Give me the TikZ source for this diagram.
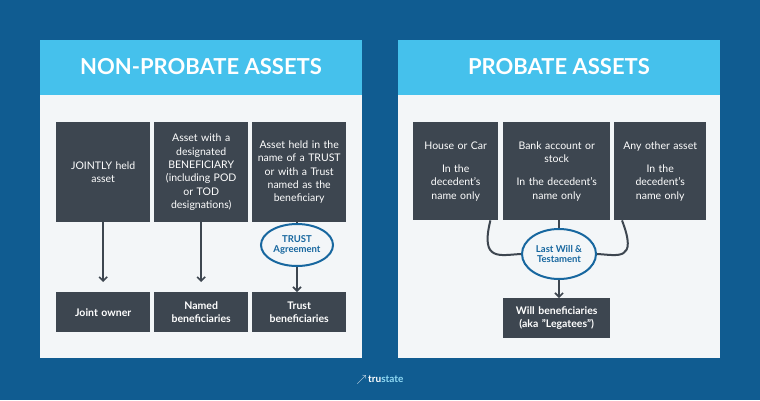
\documentclass[tikz,border=0pt]{standalone}
\usepackage{fontspec}
\setmainfont{Lato}
\usetikzlibrary{shapes.geometric,arrows.meta}
\definecolor{bgblue}{HTML}{105C91}
\definecolor{headblue}{HTML}{45C1EC}
\definecolor{panelgray}{HTML}{F3F6F8}
\definecolor{boxgray}{HTML}{3D4650}
\definecolor{ringblue}{HTML}{17679F}
\tikzset{
  assetbox/.style={rectangle, fill=boxgray, text=white, align=center,
    font=\fontsize{10.5}{13.4}\selectfont, inner sep=1pt, anchor=north west},
  resultbox/.style={assetbox, font=\bfseries\fontsize{10.5}{13.4}\selectfont},
  ring/.style={ellipse, draw=ringblue, line width=2pt, fill=panelgray, text=ringblue,
    align=center, font=\bfseries\fontsize{9.5}{10}\selectfont, inner sep=0pt},
  line/.style={draw=boxgray, line width=1.6pt, -{Straight Barb[length=4pt,width=8pt]}},
  link/.style={draw=boxgray, line width=2pt},
  header/.style={text=white, font=\bfseries\fontsize{22}{24}\selectfont}
}
\begin{document}
\begin{tikzpicture}[x=1pt,y=-1pt]
  \useasboundingbox (0,0) rectangle (760,400);
  \fill[bgblue] (0,0) rectangle (760,400);

  % Panels
  \fill[panelgray] (40,40) rectangle (362,358);
  \fill[headblue] (40,40) rectangle (362,95);
  \fill[panelgray] (398,40) rectangle (720,358);
  \fill[headblue] (398,40) rectangle (720,95);
  \node[header] (nphead) at (201,67) {NON-PROBATE ASSETS};
  \node[header] (phead) at (559,67) {PROBATE ASSETS};

  % Non-probate boxes
  \node[assetbox, minimum width=94pt, minimum height=100pt, text width=92pt] (joint) at (56,122) {JOINTLY held\\asset};
  \node[assetbox, minimum width=94pt, minimum height=100pt, text width=92pt] (named) at (154,122) {Asset with a\\designated\\BENEFICIARY\\(including POD\\or TOD\\designations)};
  \node[assetbox, minimum width=94pt, minimum height=100pt, text width=92pt] (trust) at (252,122) {Asset held in the\\name of a TRUST\\or with a Trust\\named as the\\beneficiary};
  \node[resultbox, minimum width=94pt, minimum height=40pt, text width=92pt] (jointown) at (56,292) {Joint owner};
  \node[resultbox, minimum width=94pt, minimum height=40pt, text width=92pt] (namedben) at (154,292) {Named\\beneficiaries};
  \node[resultbox, minimum width=94pt, minimum height=40pt, text width=92pt] (trustben) at (252,292) {Trust\\beneficiaries};
  \node[ring, minimum width=72pt, minimum height=42pt] (agree) at (297,245) {TRUST\\Agreement};

  % Probate boxes
  \node[assetbox, minimum width=85pt, minimum height=98pt, text width=83pt] (house) at (413,122) {House or Car\\[10pt]In the\\decedent's\\name only};
  \node[assetbox, minimum width=107pt, minimum height=98pt, text width=105pt] (bank) at (503,122) {Bank account or\\stock\\[10pt]In the decedent's\\name only};
  \node[assetbox, minimum width=92pt, minimum height=98pt, text width=90pt] (other) at (614,122) {Any other asset\\[10pt]In the\\decedent's\\name only};
  \node[ring, minimum width=74pt, minimum height=50pt] (will) at (559,254) {Last Will \&\\Testament};
  \node[resultbox, minimum width=107pt, minimum height=40pt, text width=105pt] (willben) at (503,298) {Will beneficiaries\\(aka "Legatees")};

  % Draw edges
  \path[line] (joint.south) -- ([yshift=10pt]jointown.north);
  \path[line] (named.south) -- ([yshift=10pt]namedben.north);
  \draw[link] (trust.south -| agree.north) -- (agree.north);
  \path[line] (agree.south) -- (trustben.north -| agree.south);
  \draw[link] ([xshift=-8pt]house.south east) .. controls (480,262) and (500,255) .. (will.west);
  \draw[link] ([xshift=8pt]other.south west) .. controls (638,262) and (618,255) .. (will.east);
  \draw[link] (bank.south -| will.north) -- (will.north);
  \path[line] (will.south) -- (willben.north -| will.south);

  % Logo
  \node[text=white, font=\bfseries\fontsize{10}{12}\selectfont] (logo) at (380,380) {$\nearrow$\,tru\textcolor{headblue!60!white}{state}};
\end{tikzpicture}
\end{document}
